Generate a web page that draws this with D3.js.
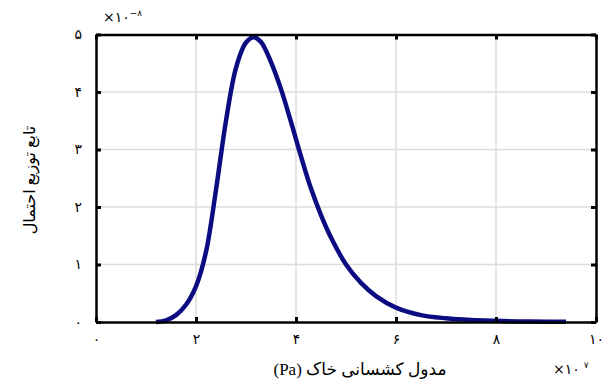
<!DOCTYPE html>
<meta charset="utf-8">
<style>
body { margin: 0; background: #fff; }
text { font-family: "Liberation Serif", "DejaVu Sans", serif; }
</style>
<body>
<script src="https://d3js.org/d3.v7.min.js"></script>
<script>

// Data (x in 1e7 Pa, y in 1e-8)

var xs = [1.2, 1.4, 1.6, 1.8, 2.0, 2.2, 2.4, 2.6, 2.8, 3.0, 3.16, 3.3, 3.5, 3.7, 3.9, 4.1, 4.3, 4.5, 4.7, 5.0, 5.3, 5.6, 6.0, 6.5, 7.0, 7.5, 8.0, 8.5, 9.0, 9.4];
var ys = [0, 0.03, 0.12, 0.3, 0.62, 1.22, 2.3, 3.5, 4.42, 4.86, 4.95, 4.87, 4.52, 4.05, 3.48, 2.88, 2.32, 1.86, 1.47, 1.0, 0.68, 0.45, 0.25, 0.12, 0.065, 0.035, 0.02, 0.01, 0.005, 0.003];

var xTicks = [0, 2, 4, 6, 8, 10];
var yTicks = [0, 1, 2, 3, 4, 5];

var xLabel = "مدول کشسانی خاک (Pa)";
var yLabel = "تابع توزیع احتمال";

var width = 605,
    height = 382;

var fa = function(n) {
    return String(n).replace(/[0-9]/g, function(d) { return "۰۱۲۳۴۵۶۷۸۹"[+d]; });
};

var x = d3.scaleLinear().domain([0, 10]).range([96, 596]);
var y = d3.scaleLinear().domain([0, 5]).range([322, 34.5]);

var svg = d3.select("body").append("svg")
    .attr("width", width)
    .attr("height", height);

// Grid

svg.append("g").selectAll("line")
    .data(xTicks.slice(1, -1))
    .enter().append("line")
    .attr("x1", d => x(d)).attr("x2", d => x(d))
    .attr("y1", y(0)).attr("y2", y(5))
    .attr("stroke", "#dcdcdc")
    .attr("stroke-width", 1.5);

svg.append("g").selectAll("line")
    .data(yTicks.slice(1, -1))
    .enter().append("line")
    .attr("x1", x(0)).attr("x2", x(10))
    .attr("y1", d => y(d)).attr("y2", d => y(d))
    .attr("stroke", "#dcdcdc")
    .attr("stroke-width", 1.5);

// Curve

var line = d3.line()
    .x(d => x(d[0]))
    .y(d => y(d[1]))
    .curve(d3.curveCatmullRom.alpha(0.5));

svg.append("path")
    .datum(d3.zip(xs, ys))
    .attr("fill", "none")
    .attr("stroke", "#0c0c82")
    .attr("stroke-width", 4.5)
    .attr("stroke-linejoin", "round")
    .attr("d", line);

// Axes, ticks pointing inward on all four sides

var axes = [
    d3.axisBottom(x).tickValues(xTicks).tickFormat(fa).tickSizeInner(-5).tickSizeOuter(0),
    d3.axisTop(x).tickValues(xTicks).tickFormat("").tickSizeInner(-5).tickSizeOuter(0),
    d3.axisLeft(y).tickValues(yTicks).tickFormat(fa).tickSizeInner(-5).tickSizeOuter(0),
    d3.axisRight(y).tickValues(yTicks).tickFormat("").tickSizeInner(-5).tickSizeOuter(0)
];
var shifts = [[0, y(0)], [0, y(5)], [x(0), 0], [x(10), 0]];

axes.forEach(function(a, i) {
    var g = svg.append("g")
        .attr("transform", "translate(" + shifts[i] + ")")
        .call(a);
    g.select(".domain").attr("stroke", "#000").attr("stroke-width", 2.5);
    g.selectAll(".tick line").attr("stroke", "#000").attr("stroke-width", 3);
    g.selectAll(".tick text")
        .attr("fill", "#000")
        .style("font-size", "14px")
        .style("font-family", "'DejaVu Sans', sans-serif");
});

// move tick labels a bit further out
svg.selectAll(".tick text").each(function() {
    var t = d3.select(this);
    if (t.attr("y") !== null && +t.attr("y") > 0) t.attr("y", 12);
    if (t.attr("x") !== null && +t.attr("x") < 0) t.attr("x", -14);
});

// Exponent labels

svg.append("text")
    .attr("x", 103).attr("y", 22)
    .attr("direction", "ltr")
    .style("unicode-bidi", "bidi-override")
    .style("font-size", "14px")
    .style("font-family", "'DejaVu Sans', sans-serif")
    .text("×" + fa(10))
    .append("tspan")
    .attr("dy", -6)
    .style("font-size", "9px")
    .text("−" + fa(8));

svg.append("text")
    .attr("x", 553).attr("y", 374)
    .attr("direction", "ltr")
    .style("unicode-bidi", "bidi-override")
    .style("font-size", "14px")
    .style("font-family", "'DejaVu Sans', sans-serif")
    .text("×" + fa(10))
    .append("tspan")
    .attr("dx", 4).attr("dy", -6)
    .style("font-size", "9px")
    .text(fa(7));

// Axis titles

svg.append("text")
    .attr("x", 360).attr("y", 375)
    .attr("text-anchor", "middle")
    .attr("direction", "rtl")
    .style("font-size", "17px")
    .text(xLabel);

svg.append("text")
    .attr("transform", "translate(35,180) rotate(-90)")
    .attr("text-anchor", "middle")
    .attr("direction", "rtl")
    .style("font-size", "16px")
    .text(yLabel);

</script>
